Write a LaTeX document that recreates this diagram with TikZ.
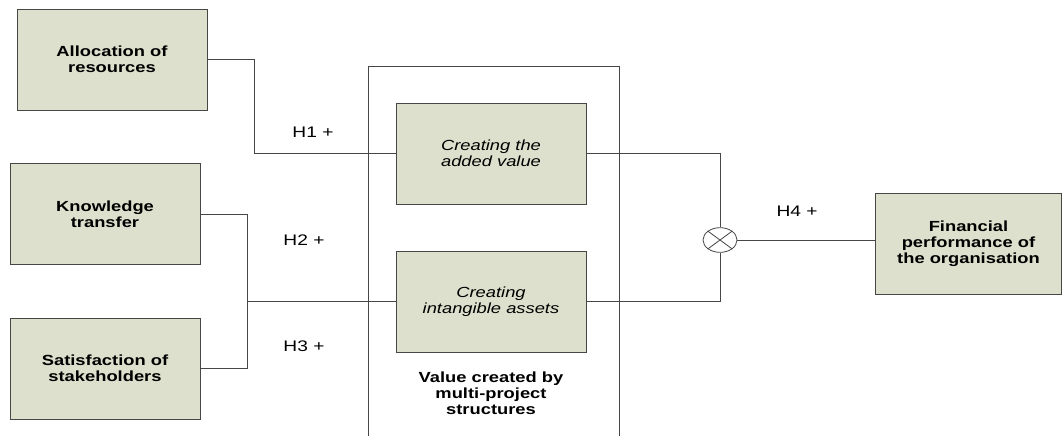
\documentclass[tikz,border=0pt]{standalone}
\usepackage{fontspec}
\setmainfont{Liberation Sans}[FakeStretch=1.25]
\usepackage{xcolor}
\usetikzlibrary{shapes.geometric}

\definecolor{boxfill}{RGB}{221,224,204}
\definecolor{edge}{RGB}{70,70,70}

\tikzset{
  factor/.style={rectangle, draw=edge, fill=boxfill, minimum width=142.5pt, minimum height=76pt,
    align=center, font=\fontsize{11}{12}\selectfont\bfseries},
  valuebox/.style={factor, font=\fontsize{11}{12}\selectfont\itshape},
  link/.style={draw=edge, line width=0.6pt},
  hyp/.style={font=\fontsize{11.5}{13}\selectfont}
}

\begin{document}
\begin{tikzpicture}[x=0.75pt, y=-0.75pt]
    \useasboundingbox (0,0) rectangle (1062,436);

    % Antecedents
    \node (alloc) [factor] at (112,59.5) {Allocation of\\resources};
    \node (know) [factor] at (105,214) {Knowledge\\transfer};
    \node (sat) [factor] at (105,368.5) {Satisfaction of\\stakeholders};

    % Multi-project structures
    \draw [link] (368,436) |- (619,66) -- (619,436);
    \node (added) [valuebox] at (491,153.5) {Creating the\\added value};
    \node (intang) [valuebox] at (491,301.5) {Creating\\intangible assets};
    \node (frame) [align=center, font=\fontsize{11}{12}\selectfont\bfseries] at (491,393) {Value created by\\multi-project\\structures};

    % Outcome
    \node (mul) [ellipse, draw=edge, line width=0.6pt, fill=white, minimum width=25.5pt, minimum height=18.5pt, inner sep=0pt] at (720,240) {};
    \node (fin) [factor, minimum width=139.5pt] at (968.5,243.5) {Financial\\performance of\\the organisation};

    % Connections
    \draw [link] (alloc.east) -- ++(47,0) |- (added.west);
    \draw [link] (know.east) -- ++(47,0) |- (intang.west);
    \draw [link] (sat.east) -- ++(47,0) |- (intang.west);

    \draw [link] (added.east) -| (mul.north);
    \draw [link] (intang.east) -| (mul.south);
    \draw [link] (mul.east) -- (mul.east -| fin.west);

    \draw [link] (mul.north west) -- (mul.south east) (mul.north east) -- (mul.south west);

    % Hypotheses
    \node (h1) [hyp] at (313,132) {H1 +};
    \node (h2) [hyp] at (304,240) {H2 +};
    \node (h3) [hyp] at (304,346) {H3 +};
    \node (h4) [hyp] at (797,211) {H4 +};
\end{tikzpicture}
\end{document}
